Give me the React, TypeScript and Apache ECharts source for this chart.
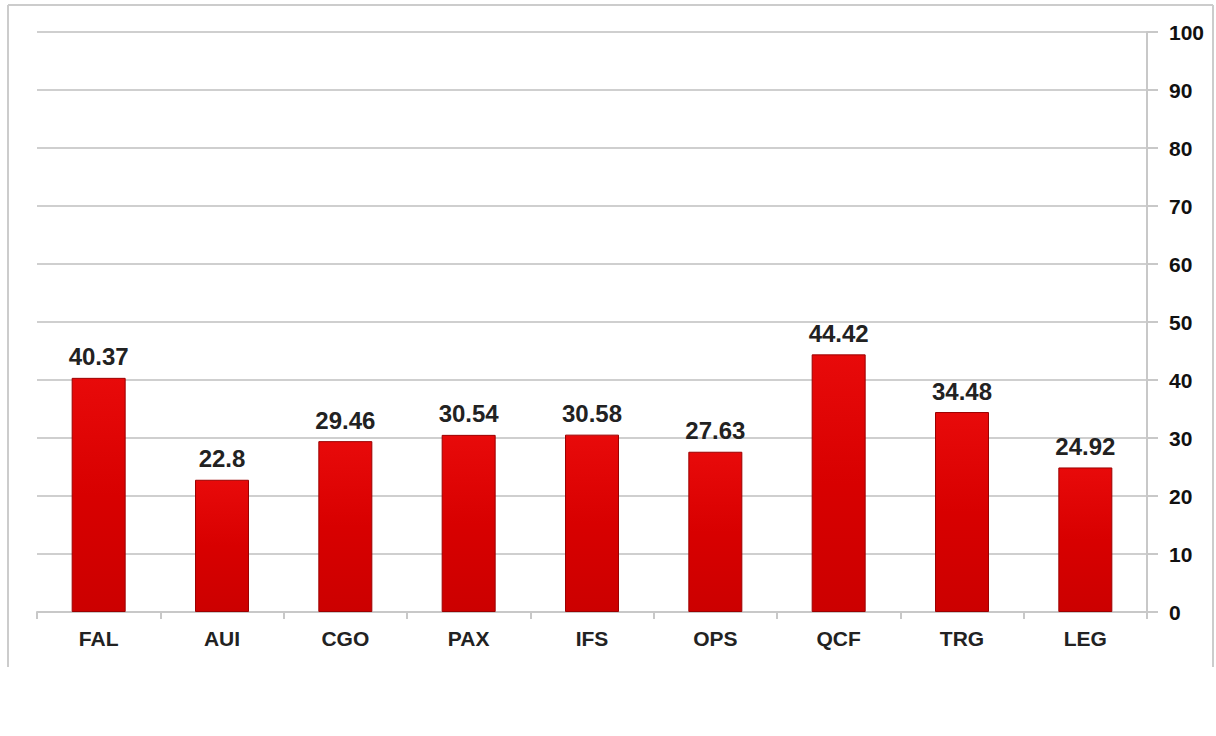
import React, { useEffect, useRef } from "react";
import * as echarts from "echarts";

const categories = ["FAL", "AUI", "CGO", "PAX", "IFS", "OPS", "QCF", "TRG", "LEG"];
const values = [40.37, 22.8, 29.46, 30.54, 30.58, 27.63, 44.42, 34.48, 24.92];

export default function App() {
  const ref = useRef<HTMLDivElement>(null);
  useEffect(() => {
    if (!ref.current) return;
    const chart = echarts.init(ref.current, null, { renderer: "svg" });
    const font = "'Liberation Sans', Arial, sans-serif";
    chart.setOption({
      animation: false,
      backgroundColor: "#ffffff",
      grid: { left: 37, right: 69, top: 32, bottom: 124, containLabel: false, outerBoundsMode: "none" },
      xAxis: {
        type: "category",
        data: categories,
        axisLine: { show: true, lineStyle: { color: "#c8c8c8", width: 2 } },
        axisTick: { show: true, length: 7, lineStyle: { color: "#c8c8c8", width: 2 } },
        axisLabel: { color: "#222", fontSize: 21, fontWeight: "bold", fontFamily: font, margin: 16 },
      },
      yAxis: {
        type: "value",
        position: "right",
        min: 0,
        max: 100,
        interval: 10,
        axisLine: { show: true, lineStyle: { color: "#c8c8c8", width: 2 } },
        axisTick: { show: true, length: 11, lineStyle: { color: "#c8c8c8", width: 2 } },
        splitLine: { show: true, lineStyle: { color: "#cfcfcf", width: 2 } },
        axisLabel: { color: "#111", fontSize: 21, fontWeight: "bold", fontFamily: font, margin: 22 },
      },
      series: [
        {
          type: "bar",
          data: values,
          barWidth: 54,
          itemStyle: {
            color: new echarts.graphic.LinearGradient(0, 0, 0, 1, [
              { offset: 0, color: "#e80a0a" },
              { offset: 0.5, color: "#d80000" },
              { offset: 1, color: "#cc0000" },
            ]),
            borderColor: "#9c0000",
            borderWidth: 1,
          },
          label: {
            show: true,
            position: "top",
            distance: 9,
            color: "#222",
            fontSize: 24,
            fontWeight: "bold",
            fontFamily: font,
          },
        },
      ],
      graphic: [
        { type: "line", shape: { x1: 8, y1: 5, x2: 1213, y2: 5 }, style: { stroke: "#cccccc", lineWidth: 2 } },
        { type: "line", shape: { x1: 8, y1: 5, x2: 8, y2: 667 }, style: { stroke: "#cccccc", lineWidth: 2 } },
        { type: "line", shape: { x1: 1213, y1: 5, x2: 1213, y2: 667 }, style: { stroke: "#cccccc", lineWidth: 2 } },
      ],
    });
    return () => chart.dispose();
  }, []);
  return <div ref={ref} style={{ position: "fixed", left: 0, top: 0, width: 1216, height: 736 }} />;
}
